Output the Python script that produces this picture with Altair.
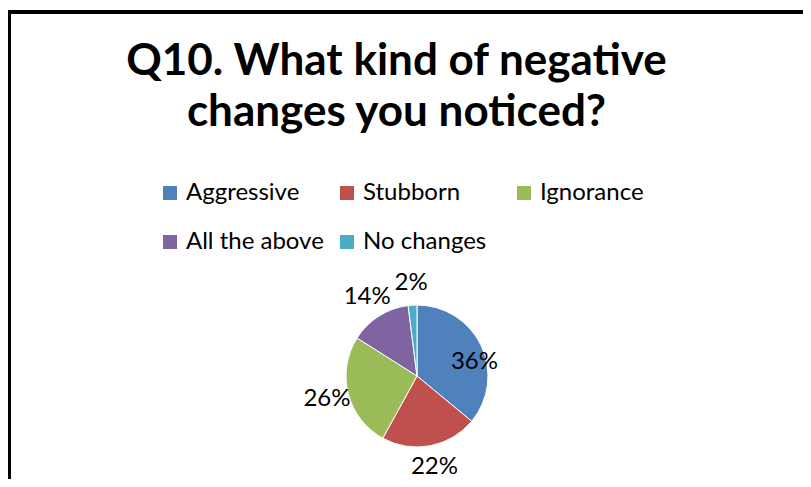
import altair as alt
import pandas as pd

categories = ["Aggressive", "Stubborn", "Ignorance", "All the above", "No changes"]
values = [36, 22, 26, 14, 2]
colors = ["#4F81BD", "#C0504D", "#9BBB59", "#8064A2", "#4BACC6"]
title_lines = ["Q10. What kind of negative", "changes you noticed?"]

df = pd.DataFrame({"category": categories, "value": values, "idx": list(range(len(categories)))})

W, H = 795, 471
CX, CY, R = 409, 368, 71

base = alt.Chart(df).transform_calculate(label="datum.value + '%'")

theta = alt.Theta("value:Q", stack=True)
order = alt.Order("idx:Q", sort="ascending")

pie = base.mark_arc(outerRadius=R, stroke="white", strokeWidth=1).encode(
    theta=theta,
    order=order,
    x=alt.value(CX),
    y=alt.value(CY),
    color=alt.Color(
        "category:N",
        sort=categories,
        scale=alt.Scale(domain=categories, range=colors),
        legend=alt.Legend(
            title=None,
            orient="none",
            legendX=150,
            legendY=173,
            direction="horizontal",
            columns=3,
            gridAlign="all",
            columnPadding=11,
            rowPadding=25,
            symbolType="square",
            symbolSize=196,
            symbolStrokeWidth=0,
            labelFont="Lato",
            labelFontSize=24,
            labelColor="black",
            labelOffset=4,
            padding=0,
        ),
    ),
)

outside = base.mark_text(radius=93, font="Lato", fontSize=24, color="black").encode(
    theta=theta,
    order=order,
    x=alt.value(CX),
    y=alt.value(CY),
    text="label:N",
    opacity=alt.condition("datum.category == 'Aggressive'", alt.value(0), alt.value(1)),
)

inside = base.mark_text(radius=58, dy=11, dx=5, font="Lato", fontSize=24, color="black").encode(
    theta=theta,
    order=order,
    x=alt.value(CX),
    y=alt.value(CY),
    text="label:N",
    opacity=alt.condition("datum.category == 'Aggressive'", alt.value(1), alt.value(0)),
)

border_df = pd.DataFrame({"k": [0]})
top_rule = alt.Chart(border_df).mark_rule(color="black", strokeWidth=4).encode(
    x=alt.value(0), x2=alt.value(W), y=alt.value(4)
)
left_rule = alt.Chart(border_df).mark_rule(color="black", strokeWidth=4).encode(
    x=alt.value(1), y=alt.value(2), y2=alt.value(H)
)

chart = (
    alt.layer(top_rule, left_rule, pie, outside, inside)
    .properties(
        width=W,
        height=H,
        padding=0,
        autosize=alt.AutoSizeParams(type="none"),
        background="white",
        title=alt.TitleParams(
            text=title_lines,
            font="Lato",
            fontSize=44,
            fontWeight="bold",
            color="black",
            lineHeight=51,
            anchor="middle",
            frame="group",
            offset=-127,
            dx=-9,
        ),
    )
    .configure_view(stroke=None)
)

chart.save("out.html", embed_options={"renderer": "svg", "actions": False})
